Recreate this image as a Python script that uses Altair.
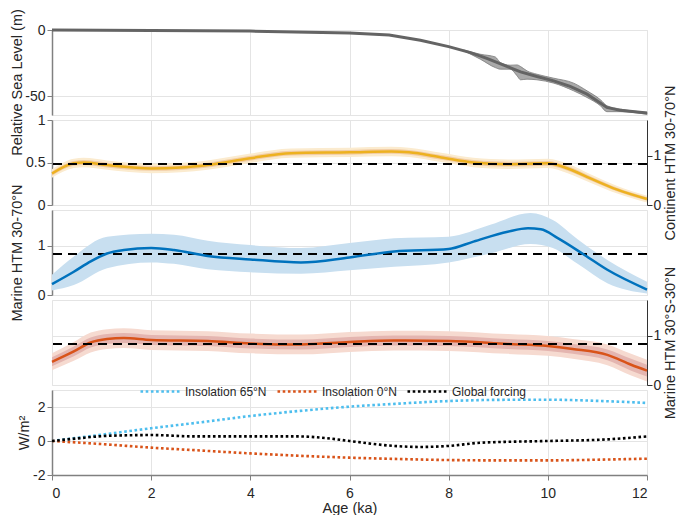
import altair as alt
import pandas as pd

FONT = "Liberation Sans"
W, H = 595, 85
TXT = "#262626"
GRID = "#e4e4e4"
AX = "#808080"

# ---------------- data ----------------
# Relative sea level (m)
sl_age = [0, 2, 4, 6, 6.8, 7.43, 8, 8.44, 8.77, 9.11, 9.45, 9.78, 10.12, 10.45, 10.79, 10.99, 11.19, 11.46, 12]
sl_val = [0, -0.3, -0.8, -2.2, -3.8, -7.75, -12.5, -17, -21.3, -26.5, -31.5, -35, -38.3, -42.5, -48.3, -53.3, -58.3, -60.5, -62.5]
slb_age = [8.3, 8.64, 8.94, 9.04, 9.24, 9.38, 9.45, 9.58, 9.78, 10.12, 10.52, 10.79, 11.06, 11.19, 11.46, 12]
slb_hi = [-15, -18.25, -20.3, -24.5, -26.5, -26.3, -27.5, -30.8, -33.3, -36.3, -40, -45.8, -52.5, -57, -59.5, -62]
slb_lo = [-15.6, -22, -28.3, -29.5, -29.5, -34.5, -37.5, -37, -37.5, -40, -45.8, -50.8, -57, -61.5, -61.5, -63.5]

# Continent HTM 30-70N (left axis units)
c_age = [0, 0.44, 0.64, 1.11, 2, 2.6, 3.14, 4, 4.82, 6, 6.84, 7.2, 7.85, 8.5, 9.2, 10, 10.4, 10.87, 11.4, 12]
c_val = [0.37, 0.49, 0.50, 0.47, 0.43, 0.44, 0.47, 0.55, 0.61, 0.62, 0.63, 0.62, 0.56, 0.50, 0.48, 0.49, 0.43, 0.31, 0.18, 0.07]
c_outer = [0.05, 0.055, 0.055, 0.055, 0.055, 0.055, 0.055, 0.055, 0.055, 0.055, 0.055, 0.055, 0.055, 0.055, 0.055, 0.055, 0.055, 0.05, 0.045, 0.04]
c_inner = [0.025, 0.028, 0.028, 0.028, 0.028, 0.028, 0.028, 0.028, 0.028, 0.028, 0.028, 0.028, 0.028, 0.028, 0.028, 0.028, 0.028, 0.025, 0.022, 0.02]

# Marine HTM 30-70N
m_age = [0, 0.44, 0.78, 1.11, 1.45, 2, 2.46, 3.14, 4, 5.02, 6, 6.9, 8, 8.5, 9.19, 9.6, 9.86, 10.2, 10.74, 11.2, 12]
m_val = [0.22, 0.47, 0.68, 0.84, 0.91, 0.95, 0.91, 0.79, 0.72, 0.66, 0.76, 0.88, 0.93, 1.08, 1.28, 1.35, 1.33, 1.15, 0.81, 0.51, 0.11]
mb_age = [0, 0.44, 1.11, 2, 2.46, 3.14, 4, 5.02, 6, 6.9, 8, 8.84, 9.65, 10.1, 10.6, 11.2, 12]
mb_hi = [0.41, 0.78, 1.18, 1.24, 1.22, 1.10, 1.01, 0.95, 1.05, 1.15, 1.18, 1.42, 1.66, 1.52, 1.13, 0.71, 0.27]
mb_lo = [0.09, 0.20, 0.54, 0.66, 0.63, 0.52, 0.46, 0.43, 0.50, 0.57, 0.66, 0.84, 1.03, 0.95, 0.63, 0.24, 0.03]

# Marine HTM 30S-30N
t_age = [0, 0.44, 0.78, 1.11, 1.45, 2, 3.14, 4, 5.02, 6, 6.9, 8, 9.19, 10, 10.5, 11.2, 11.68, 12]
t_val = [0.47, 0.68, 0.86, 0.93, 0.95, 0.91, 0.89, 0.84, 0.82, 0.87, 0.90, 0.89, 0.83, 0.79, 0.73, 0.61, 0.41, 0.29]
t_outer = [0.17, 0.19, 0.2, 0.2, 0.2, 0.2, 0.2, 0.2, 0.2, 0.2, 0.2, 0.2, 0.2, 0.2, 0.2, 0.21, 0.22, 0.22]
t_inner = [0.09, 0.1, 0.1, 0.1, 0.1, 0.1, 0.1, 0.1, 0.1, 0.1, 0.1, 0.1, 0.1, 0.1, 0.1, 0.11, 0.12, 0.12]

ref_level = [0.83]  # dashed reference line (right-hand HTM units)

# Forcing (W/m2)
f_series = ["Insolation 65°N", "Insolation 0°N", "Global forcing"]
f_colors = ["#4DBEEE", "#D95319", "#000000"]
i65_age = [0, 1, 2, 3, 4, 5, 6, 7, 8, 9, 10, 11, 12]
i65_val = [0, 0.37, 0.75, 1.1, 1.47, 1.77, 2.02, 2.2, 2.35, 2.42, 2.43, 2.36, 2.24]
i0_age = [0, 1, 2, 3, 4, 5, 6, 7, 8, 9, 10, 11, 12]
i0_val = [0, -0.18, -0.39, -0.56, -0.73, -0.87, -0.98, -1.06, -1.12, -1.14, -1.14, -1.1, -1.04]
g_age = [0, 0.5, 1.16, 2, 2.9, 4, 4.95, 5.5, 6, 6.9, 7.4, 8, 8.65, 10, 11.1, 12]
g_val = [0, 0.15, 0.31, 0.35, 0.27, 0.27, 0.27, 0.18, 0, -0.29, -0.35, -0.29, -0.1, 0, 0.08, 0.27]

x_ticks = [0, 2, 4, 6, 8, 10, 12]

# ---------------- helpers ----------------
xs = alt.Scale(domain=[0, 12], nice=False, zero=False)
LBL = "'' + datum.value"

def x_hidden():
    return alt.X("age:Q", scale=xs, axis=alt.Axis(values=x_ticks, labels=False, ticks=False,
                                                    domain=False, title=None, grid=True))

def x_bottom():
    return alt.X("age:Q", scale=xs, axis=alt.Axis(values=x_ticks, title="Age (ka)", grid=True,
                                                    labelExpr=LBL, tickSize=5, labelPadding=6,
                                                    titlePadding=1, domainColor=AX, domainWidth=1.5,
                                                    tickColor=AX))

def left_axis(title, values, tx=-35, ty=None):
    kw = dict(orient="left", values=values, title=title, labelExpr=LBL, grid=True,
              domainColor=AX, domainWidth=1.5, tickColor=AX, tickSize=5,
              titleX=tx, titleBaseline="middle", titleAngle=270)
    if ty is not None:
        kw["titleY"] = ty
    return alt.Axis(**kw)

def right_axis(title, values, grid=False):
    return alt.Axis(orient="right", values=values, title=title, labelExpr=LBL, grid=grid,
                    domainColor="#333333", domainWidth=1, tickColor="#333333", tickSize=5,
                    labelPadding=1, titleX=23, titleBaseline="middle", titleAngle=270)

# ---------------- panel 1: sea level ----------------
sl_df = pd.DataFrame({"age": sl_age, "v": sl_val})
slb_df = pd.DataFrame({"age": slb_age, "lo": slb_lo, "hi": slb_hi})
ys1 = alt.Scale(domain=[-64, 0], nice=False, zero=False)
ax1 = left_axis("Relative Sea Level (m)", [0, -50], ty=52)
p1 = alt.layer(
    alt.Chart(slb_df).mark_area(color="#a9a9a9", stroke="#7a7a7a", strokeWidth=0.8,
                                interpolate="monotone").encode(
        x=x_hidden(), y=alt.Y("lo:Q", scale=ys1, axis=ax1), y2="hi:Q"),
    alt.Chart(sl_df).mark_line(color="#646464", strokeWidth=3).encode(
        x=x_hidden(), y=alt.Y("v:Q", scale=ys1, axis=ax1)),
).properties(width=W, height=H)

# ---------------- panel 2: continent ----------------
c_df = pd.DataFrame({"age": c_age, "v": c_val,
                     "o_lo": [a - b for a, b in zip(c_val, c_outer)],
                     "o_hi": [a + b for a, b in zip(c_val, c_outer)],
                     "i_lo": [a - b for a, b in zip(c_val, c_inner)],
                     "i_hi": [a + b for a, b in zip(c_val, c_inner)]})
ys2 = alt.Scale(domain=[0, 1], nice=False)
ax2 = left_axis("", [0, 0.5, 1])
ref_df = pd.DataFrame({"v": ref_level})
ysr = alt.Scale(domain=[0, 1.72], nice=False)
left2 = alt.layer(
    alt.Chart(c_df).mark_area(color="#FBEBCF", interpolate="monotone").encode(
        x=x_hidden(), y=alt.Y("o_lo:Q", scale=ys2, axis=ax2), y2="o_hi:Q"),
    alt.Chart(c_df).mark_area(color="#F2CDA6", interpolate="monotone").encode(
        x=x_hidden(), y=alt.Y("i_lo:Q", scale=ys2, axis=ax2), y2="i_hi:Q"),
    alt.Chart(c_df).mark_line(color="#EDB120", strokeWidth=2.5, interpolate="monotone").encode(
        x=x_hidden(), y=alt.Y("v:Q", scale=ys2, axis=ax2)),
)
right2 = alt.Chart(ref_df).mark_rule(color="black", strokeWidth=2, strokeDash=[9, 6]).encode(
    y=alt.Y("v:Q", scale=ysr, axis=right_axis("Continent HTM 30-70°N", [0, 1])))
p2 = alt.layer(left2, right2).resolve_scale(y="independent").properties(width=W, height=H)

# ---------------- panel 3: marine 30-70N ----------------
m_df = pd.DataFrame({"age": m_age, "v": m_val})
mb_df = pd.DataFrame({"age": mb_age, "lo": mb_lo, "hi": mb_hi})
ax3 = left_axis("Marine HTM 30-70°N", [0, 1])
p3 = alt.layer(
    alt.Chart(mb_df).mark_area(color="#C8DFF0", interpolate="monotone").encode(
        x=x_hidden(), y=alt.Y("lo:Q", scale=ysr, axis=ax3), y2="hi:Q"),
    alt.Chart(ref_df).mark_rule(color="black", strokeWidth=2, strokeDash=[9, 6]).encode(
        y=alt.Y("v:Q", scale=ysr, axis=ax3)),
    alt.Chart(m_df).mark_line(color="#0072BD", strokeWidth=2.5, interpolate="monotone").encode(
        x=x_hidden(), y=alt.Y("v:Q", scale=ysr, axis=ax3)),
).properties(width=W, height=H)

# ---------------- panel 4: marine 30S-30N ----------------
t_df = pd.DataFrame({"age": t_age, "v": t_val,
                     "o_lo": [a - b for a, b in zip(t_val, t_outer)],
                     "o_hi": [a + b for a, b in zip(t_val, t_outer)],
                     "i_lo": [a - b for a, b in zip(t_val, t_inner)],
                     "i_hi": [a + b for a, b in zip(t_val, t_inner)]})
ax4 = right_axis("Marine HTM 30°S-30°N", [0, 1], grid=True)
p4 = alt.layer(
    alt.Chart(t_df).mark_area(color="#F6DAD0", interpolate="monotone").encode(
        x=x_hidden(), y=alt.Y("o_lo:Q", scale=ysr, axis=ax4), y2="o_hi:Q"),
    alt.Chart(t_df).mark_area(color="#E4B5B0", interpolate="monotone").encode(
        x=x_hidden(), y=alt.Y("i_lo:Q", scale=ysr, axis=ax4), y2="i_hi:Q"),
    alt.Chart(t_df).mark_line(color="#D95319", strokeWidth=2.5, interpolate="monotone").encode(
        x=x_hidden(), y=alt.Y("v:Q", scale=ysr, axis=ax4)),
    alt.Chart(ref_df).mark_rule(color="black", strokeWidth=2, strokeDash=[9, 6]).encode(
        y=alt.Y("v:Q", scale=ysr, axis=ax4)),
).properties(width=W, height=H)

# ---------------- panel 5: forcing ----------------
f_df = pd.concat([
    pd.DataFrame({"age": i65_age, "v": i65_val, "s": f_series[0]}),
    pd.DataFrame({"age": i0_age, "v": i0_val, "s": f_series[1]}),
    pd.DataFrame({"age": g_age, "v": g_val, "s": f_series[2]}),
])
p5 = alt.Chart(f_df).mark_line(strokeWidth=2.6, strokeDash=[2.6, 2.6], interpolate="monotone").encode(
    x=x_bottom(),
    y=alt.Y("v:Q", scale=alt.Scale(domain=[-2, 3], nice=False),
            axis=left_axis("W/m²", [-2, 0, 2], tx=-28)),
    color=alt.Color("s:N", scale=alt.Scale(domain=f_series, range=f_colors), sort=f_series,
                    legend=alt.Legend(title=None, orient="none", legendX=87, legendY=-20,
                                      direction="horizontal", symbolType="stroke", symbolSize=1600,
                                      symbolStrokeWidth=2.6, symbolDash=[2.6, 2.6],
                                      labelFont=FONT, labelFontSize=12, labelColor=TXT,
                                      labelOffset=3, columnPadding=5, gridAlign="none")),
    detail="s:N",
).properties(width=W, height=H)

chart = alt.vconcat(p1, p2, p3, p4, p5, spacing=5, bounds="flush").resolve_legend(
    color="independent"
).properties(
    padding={"left": 0, "top": 0, "right": 0, "bottom": 0},
).configure_view(stroke="#e4e4e4").configure_axis(
    labelFont=FONT, titleFont=FONT, labelFontSize=14, titleFontSize=14.5,
    titleFontWeight="normal", labelColor=TXT, titleColor=TXT, gridColor=GRID, gridWidth=1,
)

chart.save("out.html", embed_options={"renderer": "svg", "actions": False})
